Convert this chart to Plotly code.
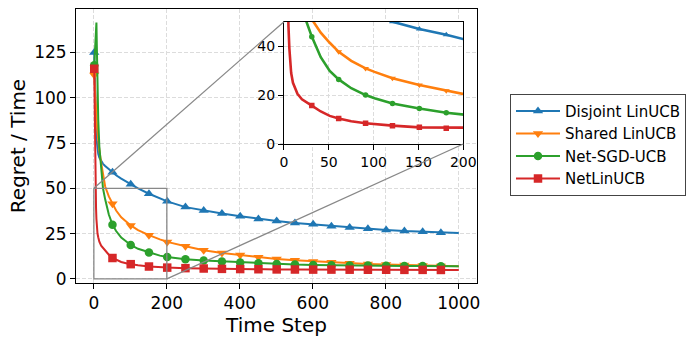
import plotly.graph_objects as go

steps = [1, 2, 3, 4, 5, 6, 7, 8, 10, 12, 15, 20, 25, 31, 41, 51, 61, 75, 91, 101,
         121, 151, 181, 201, 251, 301, 351, 401, 451, 501, 551, 601, 651, 701, 751,
         801, 851, 901, 951, 1000]

disjoint_linucb = [125, 115, 105, 96, 89, 83, 79, 76, 72, 69, 67, 65, 63.5, 62.3, 60.5,
                   58.8, 57.2, 55.3, 53.3, 52.2, 50.0, 47.0, 44.7, 42.8, 39.6, 37.7, 36.1,
                   34.6, 33.1, 31.9, 30.9, 30.1, 29.1, 28.3, 27.7, 27.0, 26.4, 26.0, 25.5, 25.3]
shared_linucb = [112.5, 108, 104, 100, 96, 92, 89, 86, 81, 76, 71, 64, 57, 51, 45.5,
                 41.4, 37.7, 34.0, 30.9, 29.5, 26.9, 24.1, 21.8, 20.4, 18.0, 15.8, 14.3,
                 13.1, 11.9, 11.0, 10.2, 9.6, 9.1, 8.6, 8.2, 7.9, 7.6, 7.3, 7.1, 7.0]
net_sgd_ucb = [118, 121, 125, 129, 134, 138, 141.5, 130, 105, 88, 73, 60, 50, 43.9, 35.5,
               29.9, 26.4, 22.8, 20.0, 18.7, 16.6, 14.5, 12.8, 12.0, 10.8, 10.1, 9.6,
               9.0, 8.6, 8.2, 7.9, 7.7, 7.5, 7.4, 7.3, 7.2, 7.1, 7.05, 7.0, 6.9]
net_linucb = [116, 95, 76, 60, 48, 39, 33, 29, 25, 23, 20.5, 18.3, 17.0, 15.7, 13.3,
              11.5, 10.4, 9.3, 8.5, 8.1, 7.5, 6.8, 6.4, 6.2, 5.9, 5.7, 5.5,
              5.4, 5.3, 5.2, 5.15, 5.1, 5.1, 5.05, 5.0, 5.0, 4.95, 4.95, 4.9, 4.9]

series = [
    ("Disjoint LinUCB", disjoint_linucb, "#1f77b4", "triangle-up"),
    ("Shared LinUCB", shared_linucb, "#ff7f0e", "triangle-down"),
    ("Net-SGD-UCB", net_sgd_ucb, "#2ca02c", "circle"),
    ("NetLinUCB", net_linucb, "#d62728", "square"),
]

X_RANGE = [-48.95, 1049.95]
Y_RANGE = [-2.3, 149.0]
INSET_X = [0.5187, 0.9658]
INSET_Y = [0.5073, 0.9536]
FONT = "DejaVu Sans"

MARKER_SIZE = {"triangle-up": 9, "triangle-down": 9, "circle": 8.5, "square": 8.5}


def to_paper(x, y):
    px = (x - X_RANGE[0]) / (X_RANGE[1] - X_RANGE[0])
    py = (y - Y_RANGE[0]) / (Y_RANGE[1] - Y_RANGE[0])
    return px, py


fig = go.Figure()

main_idx = [i for i, t in enumerate(steps) if (t - 1) % 50 == 0 and t < 1000]
inset_idx = [i for i, t in enumerate(steps) if (t - 1) % 30 == 0 and t <= 200]

for name, vals, color, symbol in series:
    # main axes
    fig.add_trace(go.Scatter(x=steps, y=vals, mode="lines", line=dict(color=color, width=2),
                             showlegend=False, hoverinfo="skip"))
    fig.add_trace(go.Scatter(x=[steps[i] for i in main_idx], y=[vals[i] for i in main_idx],
                             mode="markers", showlegend=False,
                             marker=dict(color=color, symbol=symbol, size=MARKER_SIZE[symbol])))
    # inset axes
    fig.add_trace(go.Scatter(x=steps, y=vals, mode="lines", line=dict(color=color, width=2.6),
                             showlegend=False, xaxis="x2", yaxis="y2", hoverinfo="skip"))
    fig.add_trace(go.Scatter(x=[steps[i] for i in inset_idx], y=[vals[i] for i in inset_idx],
                             mode="markers", showlegend=False, xaxis="x2", yaxis="y2",
                             marker=dict(color=color, symbol=symbol,
                                         size=MARKER_SIZE[symbol] - 3)))
    # legend entry
    fig.add_trace(go.Scatter(x=[None], y=[None], mode="lines+markers", name=name,
                             line=dict(color=color, width=2),
                             marker=dict(color=color, symbol=symbol, size=MARKER_SIZE[symbol])))

axis_style = dict(showline=True, linecolor="black", linewidth=1, mirror=True,
                  ticks="outside", ticklen=5, tickwidth=1, tickcolor="black",
                  showgrid=True, gridcolor="#dcdcdc", griddash="4px,2px", gridwidth=1,
                  zeroline=False, automargin=False)

fig.update_layout(
    width=697, height=342,
    margin=dict(l=76, r=220, t=9, b=59),
    plot_bgcolor="white", paper_bgcolor="white",
    font=dict(family=FONT, color="black"),
    xaxis=dict(domain=[0, 1], range=X_RANGE, tickvals=[0, 200, 400, 600, 800, 1000],
               tickfont=dict(size=17), title=dict(text="Time Step", font=dict(size=20), standoff=4),
               **axis_style),
    yaxis=dict(domain=[0, 1], range=Y_RANGE, tickvals=[0, 25, 50, 75, 100, 125],
               tickfont=dict(size=17), title=dict(text="Regret / Time", font=dict(size=20), standoff=3),
               **axis_style),
    xaxis2=dict(domain=INSET_X, anchor="y2", range=[0, 200], tickvals=[0, 50, 100, 150, 200],
                tickfont=dict(size=14), **axis_style),
    yaxis2=dict(domain=INSET_Y, anchor="x2", range=[0, 50], tickvals=[0, 20, 40],
                tickfont=dict(size=14), **axis_style),
    legend=dict(xref="container", yref="container", x=0.7317, y=0.726,
                xanchor="left", yanchor="top", itemwidth=44,
                bordercolor="#444444", borderwidth=1, bgcolor="white",
                font=dict(size=15, family=FONT)),
)

# zoomed region and connector lines
fig.add_shape(type="rect", xref="x", yref="y", x0=0, x1=200, y0=0, y1=50,
              line=dict(color="#888888", width=1.3))
x0p, y0p = to_paper(0, 50)
x1p, y1p = to_paper(200, 0)
fig.add_shape(type="line", xref="paper", yref="paper", x0=x0p, y0=y0p,
              x1=INSET_X[0], y1=INSET_Y[1], line=dict(color="#888888", width=1.3))
fig.add_shape(type="line", xref="paper", yref="paper", x0=x1p, y0=y1p,
              x1=INSET_X[1], y1=INSET_Y[0], line=dict(color="#888888", width=1.3))

# drop the browser's default page margin so the figure sits at the window corner
fig.write_html("out.html", config={"displayModeBar": False},
               post_script="document.body.style.margin = '0';")
